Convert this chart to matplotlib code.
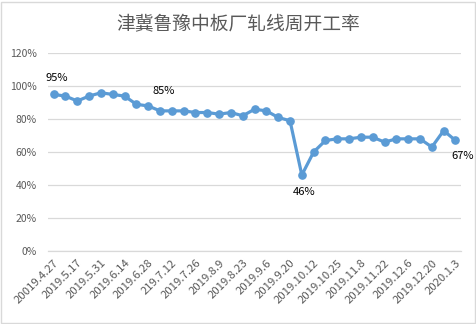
import matplotlib
matplotlib.use("Agg")
import matplotlib.pyplot as plt
from matplotlib.patches import Rectangle
import numpy as np

plt.rcParams['font.family'] = ['Noto Sans CJK SC', 'DejaVu Sans']

title = "津冀鲁豫中板厂轧线周开工率"
values = [95, 94, 91, 94, 96, 95, 94, 89, 88, 85,
          85, 85, 84, 84, 83, 84, 82, 86, 85, 81,
          79, 46, 60, 67, 68, 68, 69, 69, 66, 68,
          68, 68, 63, 73, 67]
tick_labels = ["20019.4.27", "2019.5.17", "2019.5.31", "2019.6.14", "2019.6.28",
               "219.7.12", "2019.7.26", "2019.8.9", "2019.8.23", "2019.9.6",
               "2019.9.20", "2019.10.12", "2019.10.25", "2019.11.8", "2019.11.22",
               "2019.12.6", "2019.12.20", "2020.1.3"]
yticks = [0, 20, 40, 60, 80, 100, 120]
# labelled points: index -> position ('above' / 'below')
label_points = {0: 'above', 9: 'above', 21: 'below', 34: 'below'}

W, H = 477, 324
fig = plt.figure(figsize=(W / 100, H / 100), dpi=100)
fig.patch.set_facecolor('white')
fig.patches.append(Rectangle((1 / W, 1 / H), 1 - 3 / W, 1 - 3 / H, transform=fig.transFigure,
                             fill=False, edgecolor='#d9d9d9', linewidth=1))

ax = fig.add_axes([47.7 / W, 73.3 / H, (461.4 - 47.7) / W, (250.7 - 53.3) / H])
x = np.arange(len(values))
y = np.array(values) / 100.0
ax.plot(x, y, color='#5b9bd5', linewidth=2.3, marker='o', markersize=5.2,
        markerfacecolor='#5b9bd5', markeredgecolor='#5b9bd5', zorder=3, clip_on=False)

ax.set_xlim(-0.5, len(values) - 0.5)
ax.set_ylim(0, 1.2)
ax.set_yticks([v / 100 for v in yticks])
ax.set_yticklabels([f"{v}%" for v in yticks], fontsize=7.5, color='#595959')
ax.set_xticks(x[::2])
ax.set_xticklabels(tick_labels, rotation=45, ha='right', rotation_mode='anchor',
                   fontsize=8.2, color='#595959')
ax.tick_params(axis='both', length=0)
ax.tick_params(axis='y', pad=8)
ax.tick_params(axis='x', pad=5)
ax.grid(axis='y', color='#d9d9d9', linewidth=0.9)
ax.set_axisbelow(True)
for s in ['top', 'right', 'left']:
    ax.spines[s].set_visible(False)
ax.spines['bottom'].set_color('#d9d9d9')
ax.spines['bottom'].set_linewidth(0.9)

offsets = {0: (2, 12), 9: (3, 14), 21: (2, -12), 34: (5, -11)}
for i, pos in label_points.items():
    dx, dy = offsets[i]
    ax.annotate(f"{values[i]}%", (x[i], y[i]), xytext=(dx, dy), textcoords='offset points',
                ha='center', va='center', fontsize=8, color='black')

fig.text(0.5, 1 - 24.5 / H, title, ha='center', va='center', fontsize=13.5, color='#595959')

fig.savefig('out.png', dpi=100)
